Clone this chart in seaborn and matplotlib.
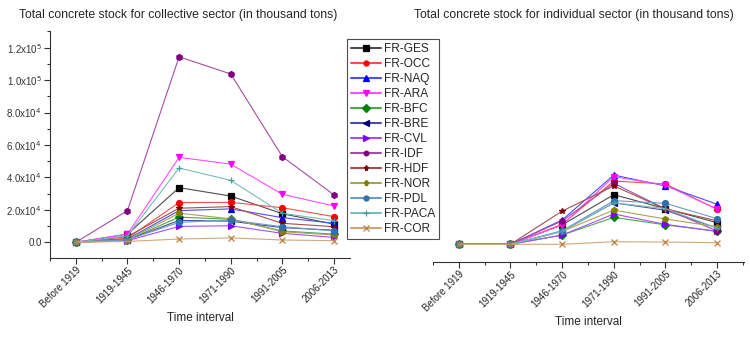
import numpy as np
import pandas as pd
import seaborn as sns
import matplotlib
matplotlib.use("Agg")
import matplotlib.pyplot as plt
from matplotlib.ticker import MultipleLocator, FuncFormatter, FixedLocator
from matplotlib.colors import to_rgb

categories = ["Before 1919", "1919-1945", "1946-1970", "1971-1990", "1991-2005", "2006-2013"]
regions = ["FR-GES", "FR-OCC", "FR-NAQ", "FR-ARA", "FR-BFC", "FR-BRE", "FR-CVL",
           "FR-IDF", "FR-HDF", "FR-NOR", "FR-PDL", "FR-PACA", "FR-COR"]

# collective sector (thousand tons)
col_GES = [0, 5000, 33700, 28500, 17600, 11200]
col_OCC = [0, 2500, 24500, 24600, 21300, 15800]
col_NAQ = [0, 2000, 19500, 20600, 15200, 11700]
col_ARA = [0, 5000, 52400, 48200, 29600, 22400]
col_BFC = [0, 1500, 15500, 14200, 7000, 5000]
col_BRE = [0, 1500, 13500, 13000, 9000, 7500]
col_CVL = [0, 1000, 9800, 10200, 5500, 3000]
col_IDF = [0, 19500, 114400, 103800, 52800, 29200]
col_HDF = [0, 3500, 21000, 22000, 11700, 9600]
col_NOR = [0, 1500, 17900, 14500, 6500, 4500]
col_PDL = [0, 1500, 12300, 13700, 9600, 7000]
col_PACA = [0, 4000, 45800, 38200, 17900, 13300]
col_COR = [0, 500, 2000, 2700, 1400, 1000]

# individual sector (thousand tons)
ind_GES = [0, 0, 12000, 30600, 22000, 13300]
ind_OCC = [0, 0, 12300, 39000, 37200, 21600]
ind_NAQ = [0, 0, 15000, 42700, 36000, 24700]
ind_ARA = [0, 0, 12000, 41700, 36500, 21600]
ind_BFC = [0, 0, 5700, 16600, 12000, 8000]
ind_BRE = [0, 0, 8000, 25600, 21000, 10000]
ind_CVL = [0, 0, 5700, 18700, 12300, 8000]
ind_IDF = [0, 0, 14400, 37600, 21800, 8200]
ind_HDF = [0, 0, 20500, 36000, 21800, 14500]
ind_NOR = [0, 0, 8000, 21100, 15600, 10800]
ind_PDL = [0, 0, 8400, 26900, 25300, 15800]
ind_PACA = [0, 0, 8000, 25600, 22000, 10000]
ind_COR = [0, 0, 0, 1600, 1400, 1000]

collective = [col_GES, col_OCC, col_NAQ, col_ARA, col_BFC, col_BRE, col_CVL,
              col_IDF, col_HDF, col_NOR, col_PDL, col_PACA, col_COR]
individual = [ind_GES, ind_OCC, ind_NAQ, ind_ARA, ind_BFC, ind_BRE, ind_CVL,
              ind_IDF, ind_HDF, ind_NOR, ind_PDL, ind_PACA, ind_COR]

colors = ["#000000", "#FF0000", "#0000FF", "#FF00FF", "#008000", "#000080", "#8000FF",
          "#800080", "#800000", "#808000", "#3070B0", "#40A0A0", "#C08040"]
markers = ["s", "o", "^", "v", "D", "<", ">", "h", "*", "p", "o", "+", "x"]

sns.set_style("white")
plt.rcParams["font.family"] = ["Liberation Sans", "DejaVu Sans"]

fig = plt.figure(figsize=(7.5, 3.41), dpi=100)
ax1 = fig.add_axes([50/750, 1-258/341, 300/750, (258-31)/341])
ax2 = fig.add_axes([433/750, 1-262/341, 311/750, (262-31)/341])

def lighten(c, f):
    r, g, b = to_rgb(c)
    return (r + (1-r)*f, g + (1-g)*f, b + (1-b)*f)

for ax, series in [(ax1, collective), (ax2, individual)]:
    for reg, vals, c, m in zip(regions, series, colors, markers):
        df = pd.DataFrame({"period": categories, "value": vals})
        sns.lineplot(data=df, x="period", y="value", color=lighten(c, 0.3), marker=m,
                     markerfacecolor=c, markeredgecolor=c, markeredgewidth=0.9,
                     lw=0.8, markersize=4.3, sort=False, ax=ax, label=reg, legend=False)

for ax in (ax1, ax2):
    ax.set_xlim(-0.5, 5.31 if ax is ax1 else 5.52)
    ax.xaxis.set_minor_locator(FixedLocator(np.arange(-0.5, 5.6, 1.0)))
    ax.set_xticks(range(len(categories)))
    ax.set_xticklabels(categories, rotation=45, ha="right", rotation_mode="anchor", fontsize=7)
    ax.set_xlabel("Time interval", fontsize=8.5, labelpad=2)
    ax.set_ylabel("")
    for s in ["top", "right"]:
        ax.spines[s].set_visible(False)
    ax.spines["bottom"].set_color("#333333")
    ax.spines["left"].set_color("#333333")
    ax.tick_params(axis="x", which="major", direction="out", length=4, width=0.8,
                   color="#333333", bottom=True, pad=1)
    ax.tick_params(axis="x", which="minor", direction="out", length=2.5, width=0.8,
                   color="#333333", bottom=True)
    ax.patch.set_alpha(0)

ax1.set_ylim(-9700, 130300)
ax1.yaxis.set_major_locator(MultipleLocator(20000))
ax1.yaxis.set_minor_locator(MultipleLocator(10000))

def fmt(v, pos):
    if abs(v) < 1e-9:
        return "0.0"
    e = int(np.floor(np.log10(abs(v))))
    m = v / 10**e
    return r"%.1fx10$^{%d}$" % (m, e)

ax1.yaxis.set_major_formatter(FuncFormatter(fmt))
ax1.tick_params(axis="y", which="major", direction="out", length=4, width=0.8,
                color="#333333", left=True, labelsize=7, pad=2, labelcolor="#333333")
ax1.tick_params(axis="y", which="minor", direction="out", length=2.5, width=0.8,
                color="#333333", left=True)

ax2.set_ylim(-10900, 131500)
ax2.spines["left"].set_visible(False)
ax2.set_yticks([])

fig.text(178/750, 1-15/341, "Total concrete stock for collective sector (in thousand tons)",
         ha="center", va="center", fontsize=8.8)
fig.text(574/750, 1-15/341, "Total concrete stock for individual sector (in thousand tons)",
         ha="center", va="center", fontsize=8.8)

leg = fig.legend(handles=list(ax1.lines), labels=regions, loc="upper left",
                 bbox_to_anchor=(347/750, 1-39/341), bbox_transform=fig.transFigure,
                 fontsize=8.6, frameon=True, fancybox=False, numpoints=1,
                 handlelength=2.5, handletextpad=0.25, labelspacing=0.25,
                 borderpad=0.35, borderaxespad=0, markerscale=0.85)
leg.get_frame().set_edgecolor("#222222")
leg.get_frame().set_linewidth(0.8)
for h in leg.legend_handles:
    h.set_linewidth(1.5)

fig.savefig("out.png", dpi=100, facecolor="white")
